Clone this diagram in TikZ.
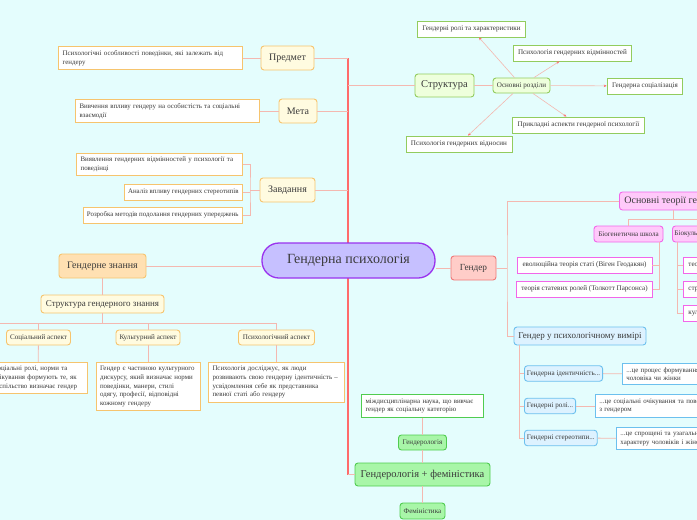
\documentclass[tikz,border=0pt]{standalone}
\usepackage{fontspec}
\setmainfont{Liberation Serif}
\usepackage{xcolor}
\usetikzlibrary{arrows.meta,positioning}

\definecolor{bgcyan}{HTML}{E4FDFD}
\definecolor{txtgray}{HTML}{3A3A3A}
\definecolor{linkpink}{HTML}{F4B8B0}
\definecolor{trunkred}{HTML}{FF6B6B}
\definecolor{orangeline}{HTML}{F6C46E}
\definecolor{yellowfill}{HTML}{FFFBE0}
\definecolor{orangefill}{HTML}{FFE0B2}
\definecolor{greenline}{HTML}{92CC5E}
\definecolor{greenfill}{HTML}{EEFFDC}
\definecolor{purpleline}{HTML}{9A33EE}
\definecolor{purplefill}{HTML}{C6C0FF}
\definecolor{redline}{HTML}{F07878}
\definecolor{pinkfill}{HTML}{FFCDC8}
\definecolor{magline}{HTML}{F266EA}
\definecolor{magfill}{HTML}{FFC9FA}
\definecolor{blueline}{HTML}{6CC0EE}
\definecolor{bluefill}{HTML}{DDF2FF}
\definecolor{brightline}{HTML}{50CC50}
\definecolor{brightfill}{HTML}{A8F6A8}

\begin{document}
\begin{tikzpicture}[x=1pt,y=-1pt,
    every node/.style={text=txtgray},
    topic/.style={draw=#1, rounded corners=3pt, line width=0.9pt, inner sep=3pt},
    small/.style={font=\fontsize{7.1}{8}\selectfont},
    leaf/.style={draw=#1, fill=white, line width=0.8pt, align=left, inner sep=4pt,
        font=\fontsize{6.9}{8.6}\selectfont},
    link/.style={draw=linkpink, line width=0.8pt},
    trunk/.style={draw=trunkred, line width=1.3pt},
    sat/.style={draw=linkpink, line width=0.6pt, -{Stealth[length=3pt,width=2.5pt,color=trunkred]}}]

    \fill[bgcyan] (0,0) rectangle (697,520);
    \useasboundingbox (0,0) rectangle (697,520);
    \clip (0,0) rectangle (697,520);

    % trunk
    \coordinate (trunktop) at (348,58);
    \coordinate (strfork) at (348,85.5);
    \coordinate (trunkbot) at (348,474.5);
    \draw[trunk] (trunktop) -- (trunkbot);

    % centre
    \node[draw=purpleline, fill=purplefill, line width=1.3pt, rounded corners=17pt,
        minimum width=173pt, minimum height=35pt, font=\fontsize{14}{16}\selectfont]
        (gp) at (348.5,260.5) {Гендерна психологія};

    % Predmet, Meta
    \begin{scope}[every node/.append style={minimum height=24pt}]
        \node[topic=orangeline, fill=yellowfill, minimum width=53pt, font=\fontsize{10}{12}\selectfont] (predmet) at (287.5,58) {Предмет};
        \node[topic=orangeline, fill=yellowfill, minimum width=38pt, font=\fontsize{10}{12}\selectfont] (meta) at (298,111) {Мета};
        \node[topic=orangeline, fill=yellowfill, minimum width=55pt, font=\fontsize{10}{12}\selectfont] (zavd) at (287.5,190) {Завдання};
    \end{scope}
    \node[leaf=orangeline, text width=176pt, anchor=east] (predmetleaf) at (243,58) {Психологічні особливості поведінки, які залежать від\\гендеру};
    \node[leaf=orangeline, text width=176pt, anchor=east] (metaleaf) at (260,111) {Вивчення впливу гендеру на особистість та соціальні\\взаємодії};
    \draw[link] (predmetleaf) -- (predmet);
    \draw[link] (metaleaf) -- (meta);
    \draw[link] (predmet.east) -- (predmet.east -| trunktop);
    \draw[link] (meta.east) -- (meta.east -| trunktop);
    \draw[link] (zavd.east) -- (zavd.east -| trunktop);

    % Zavdannia
    \node[leaf=orangeline, text width=158pt, anchor=east] (zavda) at (243,164.5) {Виявлення гендерних відмінностей у психології та\\поведінці};
    \node[leaf=orangeline, anchor=east, minimum height=16pt, inner ysep=2pt] (zavdb) at (243,192) {Аналіз впливу гендерних стереотипів};
    \node[leaf=orangeline, anchor=east, minimum height=16pt, inner ysep=2pt] (zavdc) at (243,215) {Розробка методів подолання гендерних упереджень};
    \coordinate (zfork) at (250,190);
    \draw[link] (zavd.west) -- (zfork);
    \draw[link] (zavda.east) -| (zfork) |- (zavdc.east);
    \draw[link] (zavdb.east) -- (zavdb.east -| zfork);

    % Genderne znannia
    \node[topic=orangeline, fill=orangefill, minimum width=87pt, minimum height=24pt,
        font=\fontsize{10}{12}\selectfont] (gz) at (102.5,266) {Гендерне знання};
    \draw[link] (gz.east) -- (gz.east -| gp.west);
    \node[topic=orangeline, fill=yellowfill, minimum width=123pt, minimum height=18pt,
        font=\fontsize{9}{11}\selectfont] (sgz) at (102.5,304) {Структура гендерного знання};
    \draw[link] (gz) -- (sgz);
    \coordinate (bar) at (102.5,323);
    \coordinate (barleft) at (0,323);
    \coordinate (barright) at (277,323);
    \draw[link] (barleft) -- (barright);
    \draw[link] (sgz) -- (bar);
    \begin{scope}[every node/.append style={topic=orangeline, fill=yellowfill, small, minimum height=15pt, inner sep=2pt}]
        \node[minimum width=64pt] (soc) at (38.5,337.5) {Соціальний аспект};
        \node[minimum width=64pt] (cult) at (148,337.5) {Культурний аспект};
        \node[minimum width=76pt] (psy) at (276.5,337.5) {Психологічний аспект};
    \end{scope}
    \foreach \a in {soc,cult,psy}
        \draw[link] (\a) -- (\a |- bar);
    \node[leaf=orangeline, text width=90pt, anchor=north] (socleaf) at (38,362) {Соціальні ролі, норми та\\очікування формують те, як\\суспільство визначає гендер};
    \node[leaf=orangeline, text width=96pt, anchor=north] (cultleaf) at (148,362) {Гендер є частиною культурного\\дискурсу, який визначає норми\\поведінки, манери, стилі\\одягу, професії, відповідні\\кожному гендеру};
    \node[leaf=orangeline, text width=128pt, anchor=north] (psyleaf) at (276.5,362) {Психологія досліджує, як люди\\розвивають свою гендерну ідентичність –\\усвідомлення себе як представника\\певної статі або гендеру};
    \draw[link] (soc) -- (socleaf);
    \draw[link] (cult) -- (cultleaf);
    \draw[link] (psy) -- (psyleaf);

    % Struktura
    \node[topic=greenline, fill=greenfill, minimum width=59pt, minimum height=23pt,
        font=\fontsize{10.5}{12}\selectfont] (strukt) at (444.5,85.5) {Структура};
    \draw[link] (strfork) -- (strukt.west);
    \node[topic=greenline, fill=greenfill, small, minimum width=57pt, minimum height=15pt, inner sep=2pt] (osn) at (521.5,85.5) {Основні розділи};
    \draw[link] (strukt) -- (osn);
    \begin{scope}[every node/.append style={leaf=greenline, small, minimum height=16pt, inner ysep=2pt, inner xsep=5pt}]
        \node (groles) at (471.5,29) {Гендерні ролі та характеристики};
        \node (pvidm) at (572.5,53) {Психологія гендерних відмінностей};
        \node (gsoc) at (645,86) {Гендерна соціалізація};
        \node (prykl) at (578.5,125) {Прикладні аспекти гендерної психології};
        \node (pvidn) at (459,144) {Психологія гендерних відносин};
    \end{scope}
    \foreach \s in {groles,pvidm,gsoc,prykl,pvidn}
        \draw[sat] (osn) -- (\s);

    % Gender
    \node[topic=redline, fill=pinkfill, minimum width=45pt, minimum height=24pt,
        font=\fontsize{9.3}{11}\selectfont] (gender) at (473.5,268) {Гендер};
    \draw[link] (gp.east |- gender) -- (gender.west);
    \coordinate (gfork) at (507,268);
    \draw[link] (gender.east) -- (gfork);
    \node[topic=magline, fill=magfill, anchor=west, minimum height=18pt, inner xsep=5pt,
        font=\fontsize{10}{12}\selectfont] (teorii) at (619,201) {Основні теорії гендеру};
    \node[topic=blueline, fill=bluefill, minimum width=132pt, minimum height=18pt,
        font=\fontsize{9}{11}\selectfont] (gvymir) at (580,336) {Гендер у психологічному вимірі};
    \draw[link] (teorii.west) -| (gfork) |- (gvymir.west);

    % Osnovni teorii
    \node[topic=magline, fill=magfill, small, minimum width=69pt, minimum height=16pt, inner sep=2pt] (biogen) at (628.5,234) {Біогенетична школа};
    \node[topic=magline, fill=magfill, small, anchor=west, minimum height=16pt, inner sep=2pt] (biokul) at (672,234) {Біокультурна школа};
    \draw[link] (teorii.south) -- ++(0,9) coordinate (tbar);
    \draw[link] (biogen.north) |- (tbar) -| (biokul.north);
    \begin{scope}[every node/.append style={leaf=magline, small, minimum height=16pt, inner ysep=2pt, inner xsep=5pt}]
        \node[minimum width=135pt] (evol) at (584.5,265) {еволюційна теорія статі (Віген Геодакян)};
        \node[minimum width=135pt] (tsr) at (584.5,289) {теорія статевих ролей (Толкотт Парсонса)};
        \node[anchor=west] (kul1) at (683,265) {теорія гендерної схеми};
        \node[anchor=west] (kul2) at (683,289) {структурно-функціональна теорія};
        \node[anchor=west] (kul3) at (683,313) {культурна теорія гендеру};
    \end{scope}
    \coordinate (bgfork) at (659,0);
    \coordinate (bkfork) at (677.5,0);
    \draw[link] (biogen.south -| bgfork) |- (tsr.east);
    \draw[link] (evol.east) -- (evol.east -| bgfork);
    \draw[link] (biokul.south -| bkfork) |- (kul3.west);
    \draw[link] (kul1.west) -- (kul1.west -| bkfork);
    \draw[link] (kul2.west) -- (kul2.west -| bkfork);

    % Gender u psykholohichnomu vymiri
    \begin{scope}[every node/.append style={topic=blueline, fill=bluefill, small, anchor=west, minimum height=15.5pt, inner sep=2.5pt}]
        \node (gid) at (524,373.5) {Гендерна ідентичність...};
        \node (groli) at (524,406) {Гендерні ролі...};
        \node (gster) at (524,438) {Гендерні стереотипи...};
    \end{scope}
    \coordinate (vfork) at (519,0);
    \draw[link] (gvymir.south -| vfork) |- (gster.west);
    \draw[link] (gid.west) -- (gid.west -| vfork);
    \draw[link] (groli.west) -- (groli.west -| vfork);
    \node[leaf=blueline, anchor=west, text width=150pt] (gidleaf) at (622,374) {...це процес формування усвідомлення себе як\\чоловіка чи жінки};
    \node[leaf=blueline, anchor=west, text width=165pt] (grolileaf) at (595,406) {...це соціальні очікування та поведінка, пов’язані\\з гендером};
    \node[leaf=blueline, anchor=west, text width=155pt] (gsterleaf) at (616,438.5) {...це спрощені та узагальнені уявлення про риси\\характеру чоловіків і жінок};
    \draw[link] (gid) -- (gidleaf);
    \draw[link] (groli) -- (grolileaf);
    \draw[link] (gster) -- (gsterleaf);

    % Genderolohiia + feministyka
    \node[topic=brightline, fill=brightfill, minimum width=135pt, minimum height=23pt,
        font=\fontsize{10.5}{12}\selectfont] (gf) at (422.5,474.5) {Гендерологія + феміністика};
    \draw[link] (trunkbot) -- (gf.west);
    \node[topic=brightline, fill=brightfill, small, minimum width=48pt, minimum height=15pt, inner sep=2pt] (gendlog) at (422.5,442.5) {Гендерологія};
    \node[topic=brightline, fill=brightfill, small, minimum width=45pt, minimum height=16pt, inner sep=2pt] (femin) at (422.5,511) {Феміністика};
    \node[leaf=brightline, text width=114pt] (gendleaf) at (422.5,406) {міждисциплінарна наука, що вивчає\\гендер як соціальну категорію};
    \draw[link] (gendleaf) -- (gendlog);
    \draw[link] (gendlog) -- (gf);
    \draw[link] (gf) -- (femin);
\end{tikzpicture}
\end{document}
